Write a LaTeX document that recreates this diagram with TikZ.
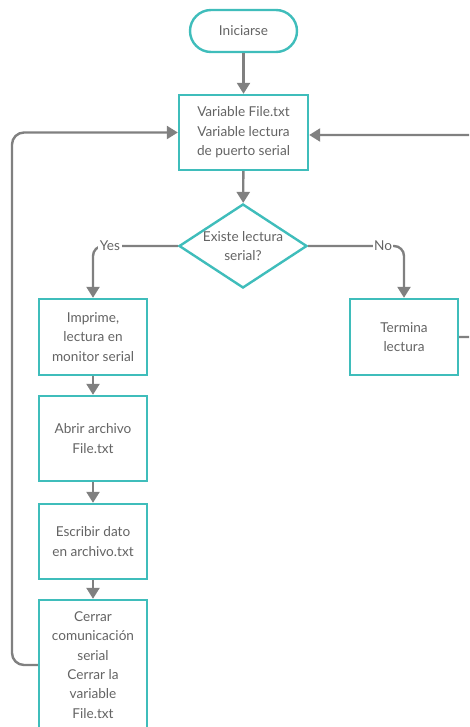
\documentclass[tikz,border=0pt]{standalone}
\usepackage{fontspec}
\setmainfont{Lato}
\usetikzlibrary{shapes.geometric,arrows.meta}
\definecolor{tealb}{HTML}{3FBDBB}
\definecolor{lineg}{HTML}{808080}
\definecolor{txtg}{HTML}{646464}
\begin{document}
\begin{tikzpicture}[x=1pt,y=-1pt,
  base/.style={draw=tealb, line width=2.4pt, fill=white, text=txtg, align=center,
    font=\fontsize{13.6}{19.4}\selectfont, inner sep=0pt},
  box/.style={base, rectangle, minimum width=108pt},
  term/.style={base, rectangle, rounded corners=21pt, minimum width=107pt, minimum height=42pt},
  dec/.style={base, diamond, aspect=1.52, minimum width=128pt, minimum height=84pt},
  conn/.style={draw=lineg, line width=2.4pt, -{Triangle[width=13pt,length=11pt]}},
  lbl/.style={fill=white, text=txtg, font=\fontsize{13.6}{16}\selectfont, inner sep=1.5pt}]
\useasboundingbox (0,0) rectangle (469,727);
\clip (0,0) rectangle (469,727);
\node[term] (start) at (243.5,31) {Iniciarse};
\node[box, minimum width=129pt, minimum height=75pt] (var) at (243.5,132.5) {Variable File.txt\\Variable lectura\\de puerto serial};
\node[dec] (dec) at (243,246) {};
\node[text=txtg, align=center, font=\fontsize{13.6}{19.4}\selectfont] (dectxt) at (243,246) {Existe lectura\\serial?};
\node[box, minimum height=76pt] (imp) at (93,337) {Imprime,\\lectura en\\monitor serial};
\node[box, minimum height=85pt] (abr) at (93,438.5) {Abrir archivo\\File.txt};
\node[box, minimum height=75pt] (esc) at (93,541.5) {Escribir dato\\en archivo.txt};
\node[box, minimum height=130pt] (cer) at (93,665) {Cerrar\\comunicación\\serial\\Cerrar la\\variable\\File.txt};
\node[box, minimum height=76pt] (ter) at (404,337) {Termina\\lectura};
\coordinate (lx) at (12,0);
\coordinate (rx) at (490,0);
\draw[conn] (start) -- (var);
\draw[conn] (var) -- (dec);
\draw[conn, rounded corners=10pt] (dec.west) -| (imp.north);
\draw[conn, rounded corners=10pt] (dec.east) -| (ter.north);
\node[lbl] (yes) at (110,246) {Yes};
\node[lbl] (no) at (383,246) {No};
\draw[conn] (imp) -- (abr);
\draw[conn] (abr) -- (esc);
\draw[conn] (esc) -- (cer);
\draw[conn, rounded corners=12pt] (cer.west) -- (cer.west -| lx) -- (var.west -| lx) -- (var.west);
\draw[conn, rounded corners=12pt] (ter.east) -- (ter.east -| rx) -- ([yshift=-2.5pt]var.east -| rx) -- ([yshift=-2.5pt]var.east);
\end{tikzpicture}
\end{document}
